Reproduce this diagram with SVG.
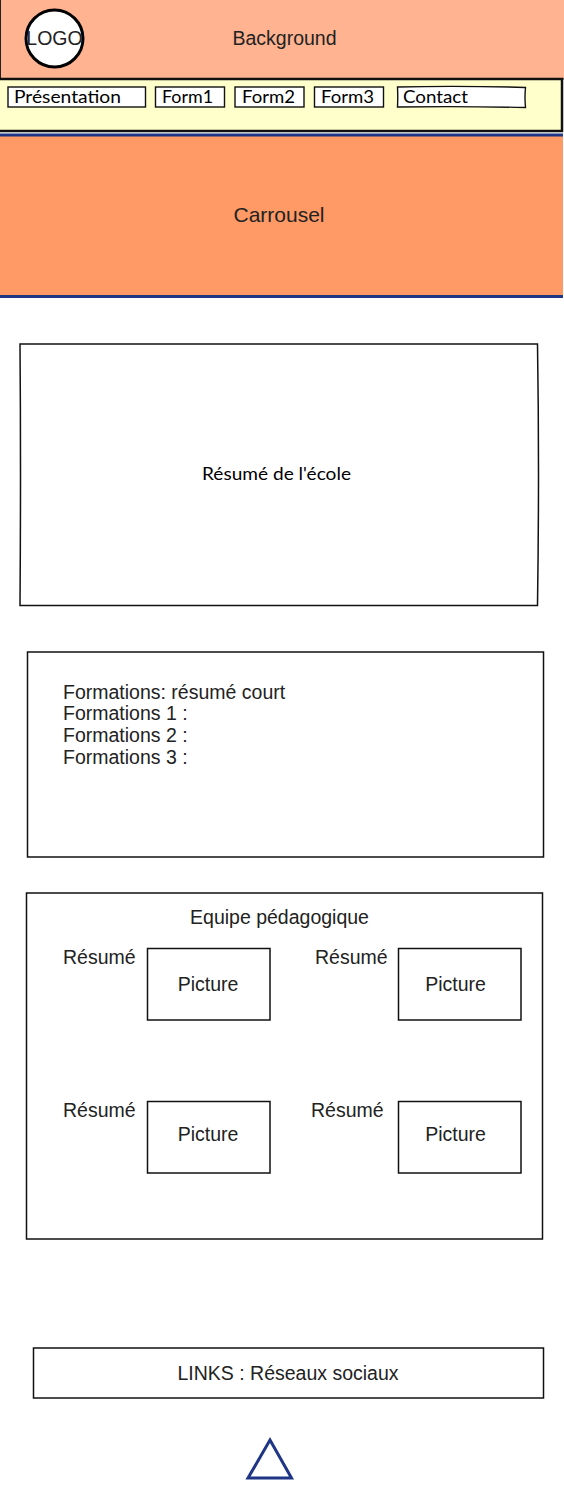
<svg xmlns="http://www.w3.org/2000/svg" width="564" height="1500" viewBox="0 0 564 1500">
<style>
text{font-family:"Liberation Sans",Arial,sans-serif;font-size:19.5px;fill:#222}
.m{text-anchor:middle}
.h{font-family:Lato,"Noto Sans",sans-serif;font-size:18px;fill:#000}
.b{fill:#fff;stroke:#111;stroke-width:1.5}
.n{fill:#fff;stroke:#111;stroke-width:1.4}
</style>
<rect width="564" height="1500" fill="#fff"/>
<g id="background"><rect x="0.5" y="-2" width="565" height="81" fill="#ffb391" stroke="#222" stroke-width="1"/><text class="m" x="284.500" y="45">Background</text></g>
<g id="logo"><circle cx="54.500" cy="38.500" r="28.500" fill="#fff" stroke="#000" stroke-width="3"/><text class="m" x="54.500" y="45">LOGO</text></g>
<g id="carrousel"><rect x="-2" y="135" width="565" height="161.500" fill="#ff9966"/><path d="M0 135H563M0 296.500H563" stroke="#1f3585" stroke-width="3" fill="none"/><text class="m" x="279" y="222" style="font-size:21px">Carrousel</text></g>
<g id="menu"><rect x="-2" y="79" width="564" height="52" fill="#ffffcc" stroke="#111" stroke-width="2.500"/></g>
<g id="item-presentation"><rect class="n" x="8" y="87" width="137.500" height="20"/><text class="h" x="14" y="103" textLength="107" lengthAdjust="spacingAndGlyphs">Présentation</text></g>
<g id="item-form1"><rect class="n" x="155.500" y="87" width="69" height="20"/><text class="h" x="162" y="103" textLength="51" lengthAdjust="spacingAndGlyphs">Form1</text></g>
<g id="item-form2"><rect class="n" x="235" y="87" width="69" height="20"/><text class="h" x="242" y="103" textLength="53" lengthAdjust="spacingAndGlyphs">Form2</text></g>
<g id="item-form3"><rect class="n" x="314.500" y="87" width="69" height="20"/><text class="h" x="321" y="103" textLength="53" lengthAdjust="spacingAndGlyphs">Form3</text></g>
<g id="item-contact"><path class="n" d="M397.500 87Q460 85.500 525.500 87.500Q524.500 97 525.500 107.500Q460 106 397.500 107Q398 97 397.500 87Z"/><text class="h" x="403" y="103" textLength="65" lengthAdjust="spacingAndGlyphs">Contact</text></g>
<g id="resume"><path class="b" d="M20 344Q280 343.500 537.500 344Q539.500 470 537.500 605.500Q280 606 20 605.500Q21 470 20 344Z"/><text class="h" x="202" y="480" textLength="149" lengthAdjust="spacingAndGlyphs">Résumé de l'école</text></g>
<g id="formations"><rect class="b" x="27.500" y="652" width="516" height="205"/><text x="63" y="699">Formations: résumé court</text><text x="63" y="720">Formations 1 :</text><text x="63" y="742">Formations 2 :</text><text x="63" y="764">Formations 3 :</text></g>
<g id="equipe"><rect class="b" x="26.500" y="893" width="516" height="346"/><text class="m" x="279.500" y="924">Equipe pédagogique</text></g>
<g id="member1"><text x="63" y="964">Résumé</text><rect class="b" x="147.500" y="948.500" width="122.500" height="71.500"/><text class="m" x="208" y="991">Picture</text></g>
<g id="member2"><text x="315" y="964">Résumé</text><rect class="b" x="398.500" y="948.500" width="122.500" height="71.500"/><text class="m" x="455.500" y="991">Picture</text></g>
<g id="member3"><text x="63" y="1117">Résumé</text><rect class="b" x="147.500" y="1101.500" width="122.500" height="71.500"/><text class="m" x="208" y="1141">Picture</text></g>
<g id="member4"><text x="311" y="1117">Résumé</text><rect class="b" x="398.500" y="1101.500" width="122.500" height="71.500"/><text class="m" x="455.500" y="1141">Picture</text></g>
<g id="links"><rect class="b" x="33.500" y="1348" width="510" height="50"/><text class="m" x="288" y="1380">LINKS : Réseaux sociaux</text></g>
<g id="triangle"><path d="M270 1440L291.500 1478H248Z" fill="#fff" stroke="#1f3585" stroke-width="3"/></g>
<g id="connectors"/>
</svg>
